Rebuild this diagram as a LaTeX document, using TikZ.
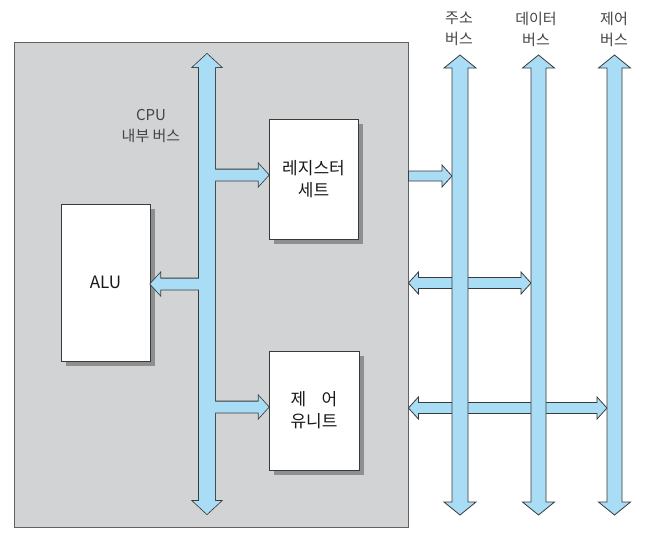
\documentclass[tikz,border=0pt]{standalone}
\usepackage{fontspec}
\newfontfamily\kr{Noto Sans CJK KR}
\usetikzlibrary{calc,shadows}
\definecolor{cpugray}{HTML}{D1D3D4}
\definecolor{busblue}{HTML}{A9DDF6}
\definecolor{edgec}{HTML}{3A3A3A}
\definecolor{shadec}{HTML}{8E8F91}
\definecolor{labelc}{HTML}{444444}
\newcommand{\fatone}[6]{%
  \coordinate (fH) at ($(#3)!#6!(#2)$);
  \path[#1] ($(#2)!#4!90:(#3)$) -- ($(fH)!#4!90:(#3)$) -- ($(fH)!#5!90:(#3)$) -- (#3)
    -- ($(fH)!#5!-90:(#3)$) -- ($(fH)!#4!-90:(#3)$) -- ($(#2)!#4!-90:(#3)$) -- cycle;}
\newcommand{\fattwo}[6]{%
  \coordinate (fHa) at ($(#2)!#6!(#3)$);
  \coordinate (fHb) at ($(#3)!#6!(#2)$);
  \path[#1] (#2) -- ($(fHa)!#5!90:(#3)$) -- ($(fHa)!#4!90:(#3)$) -- ($(fHb)!#4!90:(#3)$)
    -- ($(fHb)!#5!90:(#3)$) -- (#3) -- ($(fHb)!#5!-90:(#3)$) -- ($(fHb)!#4!-90:(#3)$)
    -- ($(fHa)!#4!-90:(#3)$) -- ($(fHa)!#5!-90:(#3)$) -- cycle;}
\tikzset{
  unitbox/.style={draw=edgec, fill=white, line width=0.8pt, inner sep=0pt, align=center,
    font=\kr\fontsize{17}{22}\selectfont, text=black!90,
    drop shadow={shadow xshift=5pt, shadow yshift=-5pt, fill=shadec, opacity=1}},
  lab/.style={align=center, font=\kr\fontsize{15}{21}\selectfont, text=labelc, inner sep=0pt},
  busline/.style={draw=edgec, line width=1.6pt, line join=miter},
  busfill/.style={fill=busblue},
  extbus/.style={draw=edgec, fill=busblue, line width=0.8pt, line join=miter}
}
\begin{document}
\begin{tikzpicture}[x=1pt,y=-1pt]
\useasboundingbox (0,0) rectangle (647,536);
% CPU
\node[draw=edgec!80, fill=cpugray, line width=0.8pt, minimum width=394pt, minimum height=485pt, inner sep=0pt] (cpu) at (211,284.5) {};
% units
\node[unitbox, minimum width=89pt, minimum height=120pt] (reg) at (313.5,179) {레지스터\\세트};
\node[unitbox, minimum width=89pt, minimum height=157pt] (alu) at (105.5,282.5) {ALU};
\node[unitbox, minimum width=90pt, minimum height=119pt] (cu) at (314,410.5) {제\hspace{0.9em}어\\유니트};
% internal bus
\coordinate (ibT) at (207,54);
\coordinate (ibB) at (207,514);
\coordinate (regIn) at ($(reg.west)+(0,-4)$);
\coordinate (aluIn) at ($(alu.east)+(0,1.5)$);
\coordinate (cuIn) at ($(cu.west)+(0,-3.5)$);
\coordinate (ibR) at (ibT |- regIn);
\coordinate (ibA) at (ibT |- aluIn);
\coordinate (ibC) at (ibT |- cuIn);
\fattwo{busline}{ibT}{ibB}{8pt}{14pt}{13pt}
\fatone{busline}{ibR}{regIn}{5.5pt}{11pt}{10pt}
\fatone{busline}{ibA}{aluIn}{5.5pt}{11pt}{10pt}
\fatone{busline}{ibC}{cuIn}{5.5pt}{11pt}{10pt}
\fattwo{busfill}{ibT}{ibB}{8pt}{14pt}{13pt}
\fatone{busfill}{ibR}{regIn}{5.5pt}{11pt}{10pt}
\fatone{busfill}{ibA}{aluIn}{5.5pt}{11pt}{10pt}
\fatone{busfill}{ibC}{cuIn}{5.5pt}{11pt}{10pt}
% system buses
\coordinate (abT) at (460,55);   \coordinate (abB) at (460,515);
\coordinate (dbT) at (538.5,55); \coordinate (dbB) at (538.5,515);
\coordinate (cbT) at (614.5,55); \coordinate (cbB) at (614.5,515);
\coordinate (o1) at ($(cpu.east |- regIn)+(0,1)$);
\coordinate (t1) at ($(abT |- o1)+(-8,0)$);
\coordinate (o2) at ($(cpu.east |- aluIn)+(0,-1)$);
\coordinate (t2) at ($(dbT |- o2)+(-7.5,0)$);
\coordinate (o3) at ($(cpu.east |- cuIn)+(0,1)$);
\coordinate (t3) at ($(cbT |- o3)+(-7.5,0)$);
\fatone{extbus}{o1}{t1}{5pt}{11pt}{10pt}
\fattwo{extbus}{o2}{t2}{5.5pt}{11pt}{10pt}
\fattwo{extbus}{o3}{t3}{5.5pt}{11pt}{10pt}
\fattwo{extbus}{abT}{abB}{8pt}{16pt}{13pt}
\fattwo{extbus}{dbT}{dbB}{7.5pt}{16pt}{13pt}
\fattwo{extbus}{cbT}{cbB}{7.5pt}{16pt}{13pt}
% labels
\node[lab] (lcpu) at (151,126) {CPU\\내부 버스};
\node[lab] (lab1) at (459,29) {주소\\버스};
\node[lab] (lab2) at (536,29) {데이터\\버스};
\node[lab] (lab3) at (614,29) {제어\\버스};
\end{tikzpicture}
\end{document}
